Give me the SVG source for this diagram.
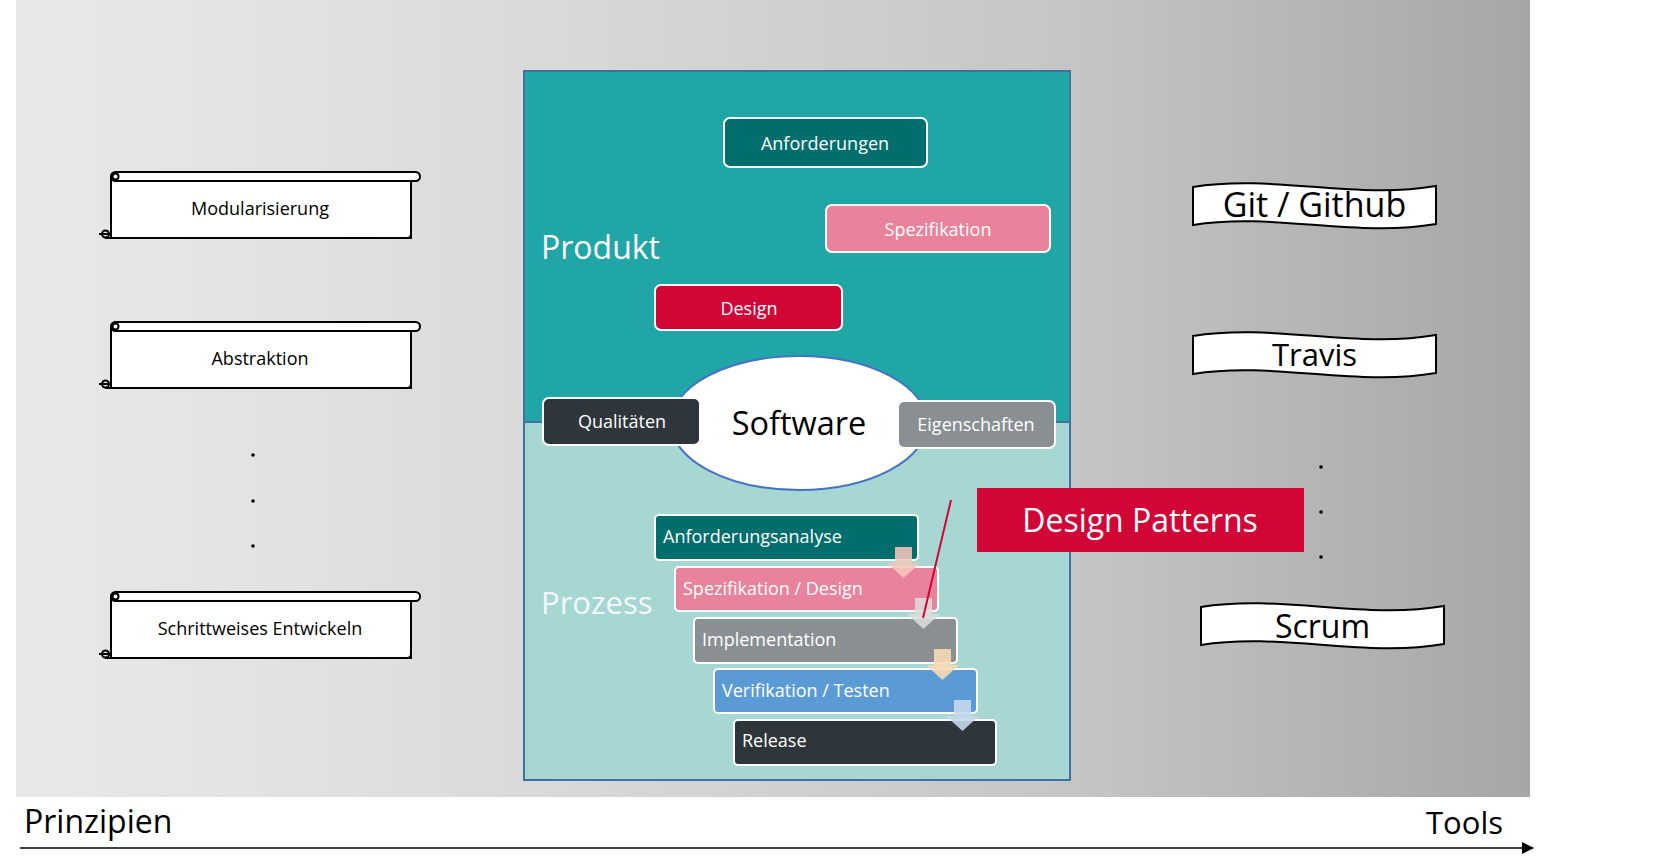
<svg xmlns="http://www.w3.org/2000/svg" width="1665" height="868" viewBox="0 0 1665 868">
<defs>
<linearGradient id="bg" x1="0" y1="0" x2="1" y2="0">
<stop offset="0" stop-color="#e8e8e8"/>
<stop offset="0.15" stop-color="#e3e3e3"/>
<stop offset="0.33" stop-color="#dadada"/>
<stop offset="0.70" stop-color="#c5c5c5"/>
<stop offset="1" stop-color="#a6a6a6"/>
</linearGradient>
<marker id="ah" markerWidth="12" markerHeight="12" refX="11" refY="6" orient="auto" markerUnits="userSpaceOnUse">
<path d="M0,0 L12,6 L0,12 Z" fill="#000"/>
</marker>
<path id="wave" d="M0,0 C80,-13 163,13 243,-1 L243,37 C163,51 80,25 0,38 Z"/>
</defs>
<style>
text{font-family:"Open Sans","Noto Sans","DejaVu Sans",sans-serif}
.scr{fill:#fff;stroke:#000;stroke-width:2}
.scrl{fill:none;stroke:#000;stroke-width:2}
.st{font-size:18px;fill:#000;text-anchor:middle}
.wv{fill:#fff;stroke:#000;stroke-width:2}
.wt{fill:#000;text-anchor:middle}
.box{stroke:#fff;stroke-width:2}
.bt{font-size:18px;fill:#fff;text-anchor:middle}
.pt{font-size:18px;fill:#fff}
.dot{fill:#000}
</style>
<rect x="0" y="0" width="1665" height="868" fill="#fff"/>
<rect x="16" y="0" width="1514" height="797" fill="url(#bg)"/>

<g id="panel">
<rect x="524" y="71" width="546" height="351" fill="#20a6a6"/>
<rect x="524" y="422" width="546" height="358" fill="#a6d7d3"/>
<line x1="524" y1="422" x2="1070" y2="422" stroke="#41719c" stroke-width="2"/>
<rect x="524" y="71" width="546" height="709" fill="none" stroke="#41719c" stroke-width="2"/>
<text x="541" y="259" font-size="32" fill="#fff">Produkt</text>
<text x="541" y="614" font-size="31" fill="#f2f9f9">Prozess</text>
</g>

<g id="anforderungen">
<rect class="box" x="724" y="118" width="203" height="49" rx="6" fill="#006e6c"/>
<text class="bt" x="825" y="150">Anforderungen</text>
</g>
<g id="spezifikation">
<rect class="box" x="826" y="205" width="224" height="47" rx="6" fill="#e8839b"/>
<text class="bt" x="938" y="236">Spezifikation</text>
</g>
<g id="design">
<rect class="box" x="655" y="285" width="187" height="45" rx="6" fill="#d20537"/>
<text class="bt" x="749" y="315">Design</text>
</g>

<g id="software">
<ellipse cx="799" cy="423" rx="128" ry="67" fill="#fff" stroke="#4472c4" stroke-width="2"/>
<text x="799" y="435" font-size="32.5" fill="#000" text-anchor="middle">Software</text>
</g>
<g id="qualitaeten">
<rect class="box" x="543" y="398" width="157" height="47" rx="6" fill="#2e353b"/>
<text class="bt" x="622" y="428">Qualitäten</text>
</g>
<g id="eigenschaften">
<rect class="box" x="898" y="401" width="157" height="47" rx="6" fill="#8a8f93"/>
<text class="bt" x="976" y="431">Eigenschaften</text>
</g>

<g id="anforderungsanalyse">
<rect class="box" x="655" y="515" width="263" height="45" rx="4" fill="#006e6c"/>
<text class="pt" x="663" y="543">Anforderungsanalyse</text>
</g>
<g id="spezifikation-design">
<rect class="box" x="675" y="567" width="263" height="44" rx="4" fill="#e8839b"/>
<text class="pt" x="683" y="595">Spezifikation / Design</text>
</g>
<g id="implementation">
<rect class="box" x="694" y="618" width="263" height="45" rx="4" fill="#8a8f93"/>
<text class="pt" x="702" y="646">Implementation</text>
</g>
<g id="verifikation">
<rect class="box" x="714" y="669" width="263" height="44" rx="4" fill="#5b9bd5"/>
<text class="pt" x="722" y="697">Verifikation / Testen</text>
</g>
<g id="release">
<rect class="box" x="734" y="720" width="262" height="45" rx="4" fill="#2e353b"/>
<text class="pt" x="742" y="747">Release</text>
</g>

<g id="connectors">
<path d="M895,547 h17 v16 h8 l-16.5,15 l-16.5,-15 h8 z" fill="#f2c6bb" opacity="0.88"/>
<path d="M915,598 h17 v16 h8 l-16.5,15 l-16.5,-15 h8 z" fill="#dcdcdc" opacity="0.88"/>
<path d="M934,649 h17 v16 h8 l-16.5,15 l-16.5,-15 h8 z" fill="#f7d9b6" opacity="0.9"/>
<path d="M954,700 h17 v16 h8 l-16.5,15 l-16.5,-15 h8 z" fill="#c6d7ec" opacity="0.9"/>
<line x1="951" y1="500" x2="923" y2="618" stroke="#d20537" stroke-width="2"/>
<line x1="20" y1="848" x2="1533" y2="848" stroke="#000" stroke-width="1.5" marker-end="url(#ah)"/>
</g>

<g id="design-patterns">
<rect x="977" y="488" width="327" height="64" fill="#d20537"/>
<text x="1140" y="532" font-size="32" fill="#fff" text-anchor="middle">Design Patterns</text>
</g>

<g id="scroll-modularisierung" transform="translate(0,172)">
<rect class="scr" x="111" y="4" width="300" height="62" stroke="none"/>
<path class="scrl" d="M111,4 V62 M105,66 H407 Q411,66 411,62 V9"/>
<rect class="scr" x="111" y="0" width="309" height="9" rx="4.5"/>
<circle class="scrl" cx="115.5" cy="4.5" r="3"/>
<circle class="scrl" cx="105.5" cy="62" r="3.5"/>
<path class="scrl" d="M99,62 H111"/>
<text class="st" x="260" y="43">Modularisierung</text>
</g>
<g id="scroll-abstraktion" transform="translate(0,322)">
<rect class="scr" x="111" y="4" width="300" height="62" stroke="none"/>
<path class="scrl" d="M111,4 V62 M105,66 H407 Q411,66 411,62 V9"/>
<rect class="scr" x="111" y="0" width="309" height="9" rx="4.5"/>
<circle class="scrl" cx="115.5" cy="4.5" r="3"/>
<circle class="scrl" cx="105.5" cy="62" r="3.5"/>
<path class="scrl" d="M99,62 H111"/>
<text class="st" x="260" y="43">Abstraktion</text>
</g>
<g id="scroll-schrittweise" transform="translate(0,592)">
<rect class="scr" x="111" y="4" width="300" height="62" stroke="none"/>
<path class="scrl" d="M111,4 V62 M105,66 H407 Q411,66 411,62 V9"/>
<rect class="scr" x="111" y="0" width="309" height="9" rx="4.5"/>
<circle class="scrl" cx="115.5" cy="4.5" r="3"/>
<circle class="scrl" cx="105.5" cy="62" r="3.5"/>
<path class="scrl" d="M99,62 H111"/>
<text class="st" x="260" y="43">Schrittweises Entwickeln</text>
</g>

<g id="dots-left">
<circle class="dot" cx="253" cy="455" r="1.8"/>
<circle class="dot" cx="253" cy="501" r="1.8"/>
<circle class="dot" cx="253" cy="546" r="1.8"/>
</g>
<g id="dots-right">
<circle class="dot" cx="1321" cy="467" r="1.8"/>
<circle class="dot" cx="1321" cy="512" r="1.8"/>
<circle class="dot" cx="1321" cy="557" r="1.8"/>
</g>

<g id="tool-git" transform="translate(1193,187)">
<use href="#wave" class="wv"/>
<text class="wt" x="121.5" y="30" style="font-size:34px">Git / Github</text>
</g>
<g id="tool-travis" transform="translate(1193,336)">
<use href="#wave" class="wv"/>
<text class="wt" x="121.5" y="30" style="font-size:31px">Travis</text>
</g>
<g id="tool-scrum" transform="translate(1201,607)">
<use href="#wave" class="wv"/>
<text class="wt" x="121.5" y="31" style="font-size:32px">Scrum</text>
</g>

<g id="axis-labels">
<text x="24" y="833" font-size="32" fill="#000">Prinzipien</text>
<text x="1503" y="834" font-size="31" fill="#000" text-anchor="end">Tools</text>
</g>
</svg>
